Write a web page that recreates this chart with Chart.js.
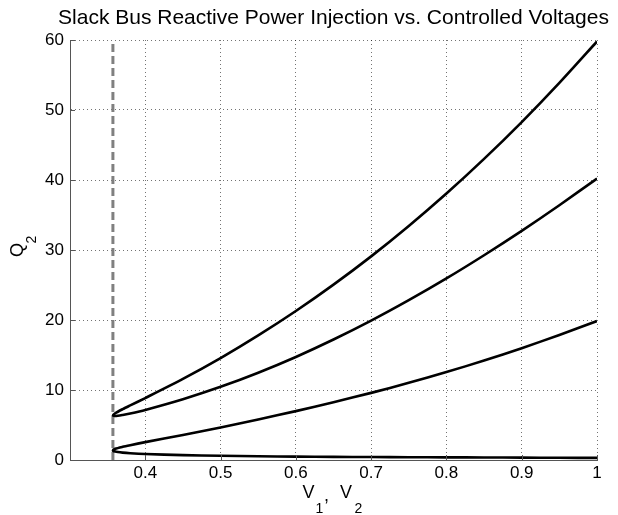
<!DOCTYPE html>
<html>
<head>
<meta charset="utf-8">
<script src="https://cdn.jsdelivr.net/npm/chart.js@4/dist/chart.umd.min.js"></script>
<style>
  html, body { margin: 0; padding: 0; background: #fff; }
  #wrap { width: 618px; height: 515px; }
</style>
</head>
<body>
<div id="wrap"><canvas id="c" width="618" height="515"></canvas></div>
<script>
// ---- data ----
const chartTitle = 'Slack Bus Reactive Power Injection vs. Controlled Voltages';
const voltages = [0.357, 0.36, 0.37, 0.38, 0.40, 0.45, 0.50, 0.55, 0.60, 0.65, 0.70, 0.75, 0.80, 0.85, 0.90, 0.95, 1.00];
const qUpperA  = [6.37, 6.68, 7.27, 7.80, 8.85, 11.58, 14.55, 17.79, 21.28, 25.05, 29.09, 33.43, 38.06, 43.01, 48.27, 53.87, 59.79];
const qLowerA  = [6.37, 6.28, 6.43, 6.64, 7.15, 8.68, 10.45, 12.47, 14.72, 17.21, 19.91, 22.83, 25.94, 29.25, 32.73, 36.39, 40.21];
const qUpperB  = [1.37, 1.60, 1.89, 2.12, 2.55, 3.58, 4.65, 5.79, 6.98, 8.25, 9.59, 11.03, 12.56, 14.21, 15.97, 17.87, 19.85];
const qLowerB  = [1.37, 1.20, 1.05, 0.96, 0.85, 0.70, 0.60, 0.53, 0.48, 0.45, 0.42, 0.40, 0.38, 0.36, 0.34, 0.32, 0.30];
const limitVoltage = 0.357;
const limitRange = [0, 60];
const xTicks = [0.3, 0.4, 0.5, 0.6, 0.7, 0.8, 0.9, 1.0];
const yTicks = [0, 10, 20, 30, 40, 50, 60];

// ---- build nose curves (upper branch back to the tip, then lower branch) ----
function nosePath(upper, lower) {
  const pts = [];
  for (let i = voltages.length - 1; i >= 0; i--) pts.push({x: voltages[i], y: upper[i]});
  for (let i = 1; i < voltages.length; i++) pts.push({x: voltages[i], y: lower[i]});
  return pts;
}

const FONT = "'Liberation Sans', Arial, Helvetica, sans-serif";

const axisDecor = {
  id: 'axisDecor',
  afterDraw(chart) {
    const {ctx, chartArea: a, scales: {x, y}} = chart;
    ctx.save();
    // inward tick marks
    ctx.strokeStyle = '#555';
    ctx.lineWidth = 1;
    ctx.beginPath();
    xTicks.forEach(v => {
      const px = Math.round(x.getPixelForValue(v)) + 0.5;
      ctx.moveTo(px, a.bottom); ctx.lineTo(px, a.bottom - 5);
    });
    yTicks.forEach(v => {
      const py = Math.round(y.getPixelForValue(v)) + 0.5;
      ctx.moveTo(a.left, py); ctx.lineTo(a.left + 5, py);
    });
    ctx.stroke();

    const cx = (a.left + a.right) / 2;
    ctx.fillStyle = '#000';
    ctx.textBaseline = 'alphabetic';

    // title, centred over the plot area
    ctx.textAlign = 'center';
    ctx.font = '21px ' + FONT;
    ctx.fillText(chartTitle, cx, a.top - 16);

    // x axis title: V_1,  V_2
    ctx.textAlign = 'left';
    const base = a.bottom + 38;
    const big = '18px ' + FONT, small = '14px ' + FONT;
    ctx.font = big;   ctx.fillText('V', cx - 31, base);
    ctx.font = small; ctx.fillText('1', cx - 18, base + 14.5);
    ctx.font = big;   ctx.fillText(',', cx - 9.5, base + 3);
    ctx.font = big;   ctx.fillText('V', cx + 6.5, base);
    ctx.font = small; ctx.fillText('2', cx + 21, base + 14.5);

    // y axis title: Q_2 (rotated)
    const cy = (a.top + a.bottom) / 2;
    ctx.translate(a.left - 47, cy + 7);
    ctx.rotate(-Math.PI / 2);
    ctx.font = big;   ctx.fillText('Q', 0, 0);
    ctx.font = small; ctx.fillText('2', 13.5, 12.5);
    ctx.restore();
  }
};

new Chart(document.getElementById('c'), {
  type: 'scatter',
  data: {
    datasets: [
      {
        label: 'Voltage limit',
        data: limitRange.map(q => ({x: limitVoltage, y: q})),
        showLine: true,
        borderColor: '#808080',
        borderWidth: 3,
        borderDash: [8, 4],
        pointRadius: 0,
        order: 3
      },
      {
        label: 'Q2 (high)',
        data: nosePath(qUpperA, qLowerA),
        showLine: true,
        borderColor: '#000',
        borderWidth: 2.6,
        pointRadius: 0,
        tension: 0.25,
        order: 1
      },
      {
        label: 'Q2 (low)',
        data: nosePath(qUpperB, qLowerB),
        showLine: true,
        borderColor: '#000',
        borderWidth: 2.6,
        pointRadius: 0,
        tension: 0.25,
        order: 2
      }
    ]
  },
  options: {
    responsive: false,
    animation: false,
    devicePixelRatio: 1,
    layout: { padding: { left: 0, right: 21, top: 40, bottom: 0 } },
    plugins: {
      legend: { display: false },
      tooltip: { enabled: false },
      title: { display: false }
    },
    scales: {
      x: {
        type: 'linear',
        min: 0.3, max: 1.0,
        afterBuildTicks: s => { s.ticks = xTicks.map(v => ({value: v})); },
        afterFit: s => { s.height = 55; },
        ticks: {
          color: '#000',
          font: { family: FONT, size: 17 },
          padding: 3,
          maxRotation: 0,
          autoSkip: false,
          callback: v => (v < 0.35 ? '' : String(+v.toFixed(1)))
        },
        grid: { color: 'rgba(0,0,0,0.55)', lineWidth: 1, drawTicks: false },
        border: { display: true, color: '#555', width: 1, dash: [1, 3] }
      },
      y: {
        type: 'linear',
        min: 0, max: 60,
        afterBuildTicks: s => { s.ticks = yTicks.map(v => ({value: v})); },
        afterFit: s => { s.width = 70; },
        ticks: {
          color: '#000',
          font: { family: FONT, size: 17 },
          padding: 6,
          autoSkip: false,
          callback: v => String(v)
        },
        grid: { color: 'rgba(0,0,0,0.55)', lineWidth: 1, drawTicks: false },
        border: { display: true, color: '#555', width: 1, dash: [1, 3] }
      }
    }
  },
  plugins: [axisDecor]
});
</script>
</body>
</html>
